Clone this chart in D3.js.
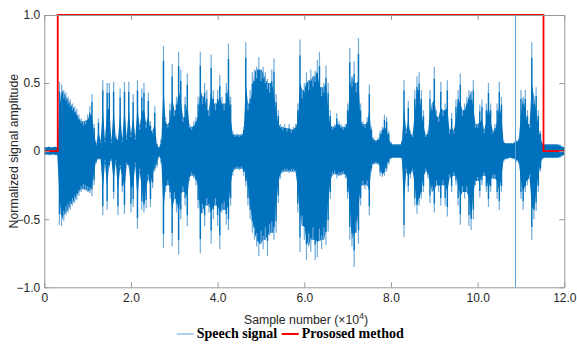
<!DOCTYPE html>
<html><head><meta charset="utf-8">
<script src="https://cdn.jsdelivr.net/npm/d3@7"></script>
<style>
html,body{margin:0;padding:0;background:#fff;}
svg{display:block;}
</style></head>
<body>
<script>
// Sample positions (x10^4), one envelope bin every 0.05
const binStep = 0.05;
// Upper envelope of the speech signal (one row = 1.0 x10^4 samples)
const upperEnv = [
 .03,.03,.035,.03,.03,.035,.03,.51,.49,.45,.43,.40,.38,.35,.33,.31,.27,.24,.22,.23,
 .27,.33,.42,.20,.05,.24,.07,.52,.08,.50,.50,.07,.51,.12,.09,.46,.08,.51,.10,.51,
 .12,.42,.10,.52,.18,.46,.50,.20,.43,.22,.15,.33,.06,.03,.10,.77,.25,.20,.35,.64,
 .30,.40,.73,.60,.25,.40,.57,.20,.18,.22,.25,.40,.73,.40,.50,.45,.30,.71,.45,.35,
 .45,.56,.40,.35,.50,.79,.40,.15,.12,.13,.12,.13,.18,.80,.35,.45,.58,.60,.62,.69,
 .60,.62,.58,.53,.50,.60,.68,.42,.30,.20,.18,.20,.17,.20,.16,.18,.20,.35,.82,.45,
 .50,.58,.52,.60,.55,.59,.67,.73,.47,.50,.63,.50,.30,.18,.20,.28,.22,.20,.18,.20,
 .35,.76,.55,.66,.50,.83,.35,.22,.20,.25,.49,.18,.10,.08,.10,.15,.18,.27,.25,.15,
 .07,.05,.05,.05,.05,.08,.52,.15,.37,.15,.12,.45,.55,.58,.45,.30,.12,.15,.45,.35,
 .62,.30,.25,.51,.30,.35,.52,.15,.28,.15,.38,.45,.57,.30,.35,.40,.45,.44,.52,.20,
 .20,.34,.38,.15,.35,.50,.35,.15,.20,.35,.51,.40,.08,.06,.06,.06,.06,.07,.08,.10,
 .45,.40,.45,.30,.20,.80,.40,.47,.30,.15,.06,.05,.05,.05,.05,.05,.05,.05,.05,.04,.03
];
// Lower envelope of the speech signal
const lowerEnv = [
 -.03,-.025,-.03,-.03,-.025,-.03,-.03,-.54,-.55,-.51,-.47,-.45,-.43,-.40,-.38,-.36,-.33,-.30,-.28,-.29,
 -.30,-.31,-.33,-.25,-.09,-.06,-.06,-.47,-.08,-.43,-.12,-.07,-.35,-.08,-.47,-.12,-.30,-.46,-.10,-.12,
 -.45,-.41,-.10,-.57,-.15,-.43,-.45,-.42,-.20,-.41,-.27,-.15,-.12,-.04,-.10,-.71,-.30,-.25,-.35,-.70,
 -.35,-.45,-.76,-.50,-.30,-.40,-.55,-.22,-.18,-.20,-.25,-.42,-.75,-.45,-.55,-.40,-.45,-.68,-.50,-.40,
 -.55,-.72,-.45,-.43,-.54,-.58,-.40,-.18,-.14,-.13,-.14,-.13,-.18,-.26,-.40,-.50,-.60,-.65,-.70,-.77,
 -.68,-.72,-.65,-.77,-.62,-.60,-.65,-.60,-.38,-.20,-.16,-.15,-.15,-.16,-.15,-.15,-.16,-.45,-.74,-.55,
 -.65,-.80,-.70,-.74,-.65,-.80,-.78,-.66,-.72,-.65,-.69,-.59,-.35,-.18,-.17,-.20,-.18,-.18,-.17,-.20,
 -.35,-.65,-.70,-.85,-.60,-.68,-.40,-.25,-.28,-.25,-.47,-.15,-.10,-.09,-.10,-.18,-.19,-.18,-.15,-.10,
 -.06,-.05,-.05,-.05,-.05,-.06,-.63,-.15,-.30,-.20,-.15,-.40,-.46,-.40,-.35,-.30,-.15,-.20,-.38,-.30,
 -.45,-.25,-.30,-.40,-.25,-.40,-.48,-.20,-.30,-.18,-.25,-.40,-.54,-.30,-.35,-.30,-.55,-.58,-.50,-.25,
 -.22,-.34,-.25,-.18,-.30,-.41,-.30,-.20,-.20,-.35,-.43,-.30,-.08,-.06,-.06,-.05,-.06,-.06,-.08,-.10,
 -.35,-.43,-.30,-.25,-.20,-.65,-.50,-.44,-.30,-.15,-.06,-.05,-.05,-.05,-.05,-.05,-.05,-.05,-.05,-.04,-.03
];
// Isolated one-sample click
const clickX = [10.88];
const clickHi = [1.0];
const clickLo = [-1.0];
// Proposed method (speech detection) step line
const vadX = [0, 0.31, 0.31, 11.52, 11.52, 12.0];
const vadY = [0, 0, 1, 1, 0, 0];
// Axis ticks
const xTicks = [0, 2, 4, 6, 8, 10, 12];
const yTicks = [-1, -0.5, 0, 0.5, 1];
const legendLabels = ["Speech signal", "Prososed method"];

const W = 577, H = 345;
const m = {l: 44.3, r: 564.3, t: 15, b: 287.3};
const svg = d3.select("body").append("svg").attr("width", W).attr("height", H);
svg.append("rect").attr("width", W).attr("height", H).attr("fill", "#fff");

const x = d3.scaleLinear().domain([0, 12]).range([m.l, m.r]);
const y = d3.scaleLinear().domain([-1, 1]).range([m.b, m.t]);

svg.append("clipPath").attr("id", "clip").append("rect")
  .attr("x", m.l).attr("y", m.t).attr("width", m.r - m.l).attr("height", m.b - m.t);
const plot = svg.append("g").attr("clip-path", "url(#clip)");

const env = upperEnv.map((u, i) => ({v: i * binStep, u: u, l: lowerEnv[i]}));
// dense core: isolated peaks stay as thin strokes
const core = env.map((d, i) => {
  const pu = i > 0 ? env[i-1].u : d.u, nu = i < env.length-1 ? env[i+1].u : d.u;
  const pl = i > 0 ? env[i-1].l : d.l, nl = i < env.length-1 ? env[i+1].l : d.l;
  return {v: d.v, u: Math.min(d.u, Math.max(Math.min(pu, nu), d.u * 0.62)),
          l: Math.max(d.l, Math.min(Math.max(pl, nl), d.l * 0.62))};
});
const area = d3.area().x(d => x(d.v)).y0(d => y(d.l)).y1(d => y(d.u));
plot.append("path").datum(core).attr("d", area).attr("fill", "#0072BD");
// per-bin strokes: dark body, light tips
const light = "#6fabdb", dark = "#0072BD";
const bins = plot.append("g");
env.forEach(d => {
  const tipU = d.u * 0.86, tipL = d.l * 0.86;
  bins.append("line").attr("x1", x(d.v)).attr("x2", x(d.v))
    .attr("y1", y(tipL)).attr("y2", y(tipU)).attr("stroke", dark).attr("stroke-width", 1.5);
  bins.append("line").attr("x1", x(d.v)).attr("x2", x(d.v))
    .attr("y1", y(tipU)).attr("y2", y(d.u)).attr("stroke", light).attr("stroke-width", 1.2);
  bins.append("line").attr("x1", x(d.v)).attr("x2", x(d.v))
    .attr("y1", y(tipL)).attr("y2", y(d.l)).attr("stroke", light).attr("stroke-width", 1.2);
});
plot.selectAll(".click").data(clickX).enter().append("line")
  .attr("x1", d => x(d)).attr("x2", d => x(d))
  .attr("y1", (d, i) => y(clickLo[i])).attr("y2", (d, i) => y(clickHi[i]))
  .attr("stroke", "#5aa0d6").attr("stroke-width", 1).attr("shape-rendering", "crispEdges");

// red step line
const vad = vadX.map((v, i) => [v, vadY[i]]);
svg.append("path").datum(vad)
  .attr("d", d3.line().x(d => x(d[0])).y(d => y(d[1])))
  .attr("fill", "none").attr("stroke", "#ff0000").attr("stroke-width", 1.8);

// axes (box with inward ticks)
const axColor = "#999";
const txtColor = "#262626";
const fmt = d => d === 0 ? "0" : d3.format(".1f")(d).replace("-", "\u2212");
function styleAxis(g, showText) {
  g.select(".domain").attr("stroke", axColor);
  g.selectAll(".tick line").attr("stroke", axColor);
  g.selectAll(".tick text").attr("fill", txtColor)
    .style("font-family", "Liberation Sans, Arial, sans-serif").style("font-size", "12px");
  if (!showText) g.selectAll(".tick text").remove();
}
svg.append("g").attr("transform", `translate(0,${m.b})`)
  .call(d3.axisBottom(x).tickValues(xTicks).tickFormat(fmt).tickSizeInner(-5).tickSizeOuter(0).tickPadding(6))
  .call(g => styleAxis(g, true));
svg.append("g").attr("transform", `translate(0,${m.t})`)
  .call(d3.axisTop(x).tickValues(xTicks).tickSizeInner(-5).tickSizeOuter(0))
  .call(g => styleAxis(g, false));
svg.append("g").attr("transform", `translate(${m.l},0)`)
  .call(d3.axisLeft(y).tickValues(yTicks).tickFormat(fmt).tickSizeInner(-5).tickSizeOuter(0).tickPadding(4))
  .call(g => styleAxis(g, true));
svg.append("g").attr("transform", `translate(${m.r},0)`)
  .call(d3.axisRight(y).tickValues(yTicks).tickSizeInner(-5).tickSizeOuter(0))
  .call(g => styleAxis(g, false));

// axis labels
svg.append("text").attr("transform", `translate(14,${(m.t + m.b) / 2}) rotate(-90)`)
  .attr("text-anchor", "middle").attr("dominant-baseline", "central")
  .style("font-family", "Liberation Sans, Arial, sans-serif").style("font-size", "12.3px")
  .attr("fill", txtColor).text("Normalized signal amplitude");
const xl = svg.append("text").attr("x", 306).attr("y", 324)
  .attr("text-anchor", "middle")
  .style("font-family", "Liberation Sans, Arial, sans-serif").style("font-size", "12.3px")
  .attr("fill", txtColor);
xl.append("tspan").text("Sample number (\u00d710");
xl.append("tspan").attr("dy", -5).style("font-size", "8.5px").text("4");
xl.append("tspan").attr("dy", 5).text(")");

// legend
const legY = 338;
const leg = svg.append("g");
const legItems = [
  {label: legendLabels[0], color: "#5fa2d6", w: 1, x0: 176.7},
  {label: legendLabels[1], color: "#ff0000", w: 2, x0: 281.7}
];
legItems.forEach(it => {
  leg.append("line").attr("x1", it.x0).attr("x2", it.x0 + 17).attr("y1", legY - 4).attr("y2", legY - 4)
    .attr("stroke", it.color).attr("stroke-width", it.w);
  leg.append("text").attr("x", it.x0 + 20).attr("y", legY)
    .style("font-family", "Liberation Serif, Times New Roman, serif").style("font-weight", "bold")
    .style("font-size", "14px").attr("fill", "#000").text(it.label);
});
</script>
</body></html>
